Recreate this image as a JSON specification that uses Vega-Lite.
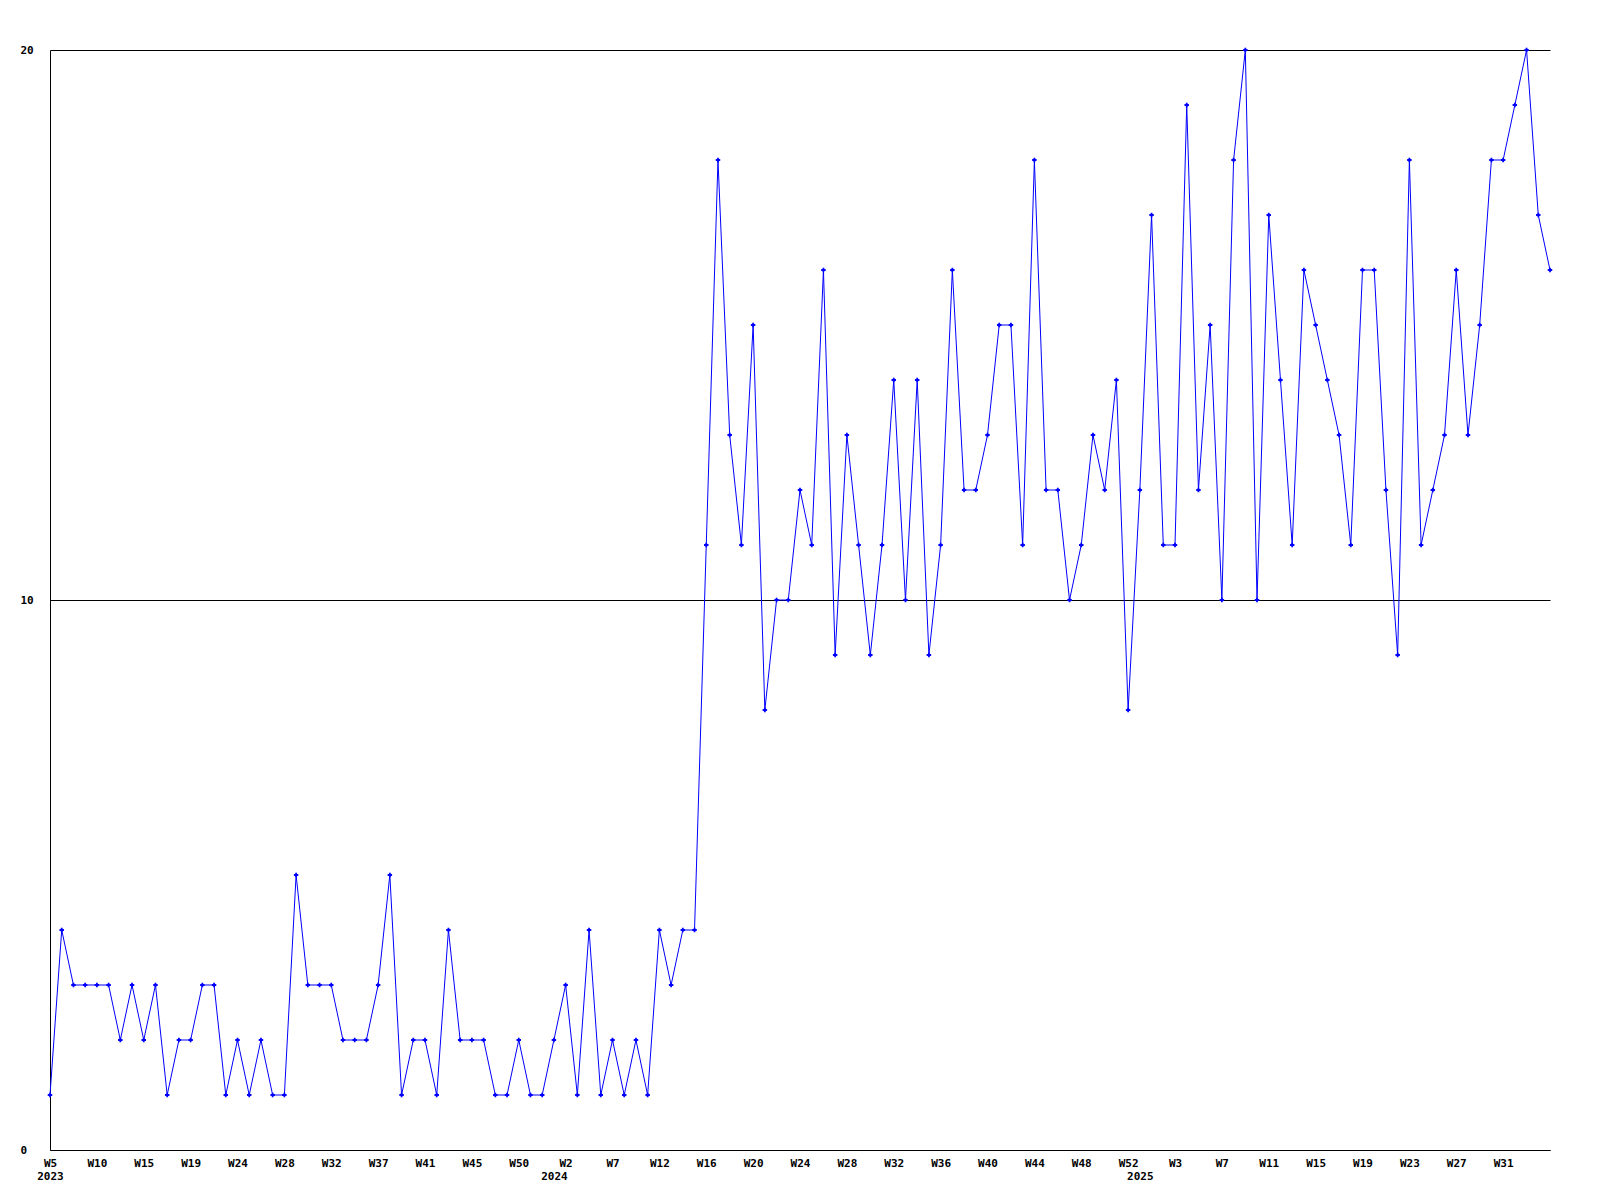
{
  "$schema": "https://vega.github.io/schema/vega-lite/v6.json",
  "width": 1500,
  "height": 1100,
  "autosize": {"type": "none"},
  "padding": {"left": 50, "top": 50, "right": 50, "bottom": 50},
  "background": "white",
  "config": {
    "view": {"stroke": null},
    "axis": {"labelFont": "DejaVu Sans Mono", "labelFontWeight": "bold", "labelFontSize": 11, "labelColor": "black", "domainColor": "black", "domainWidth": 1, "ticks": false, "tickSize": 0, "title": null}
  },
  "data": {"values": [
    {"week": "2023-W05", "v": 1}, {"week": "2023-W06", "v": 4}, {"week": "2023-W07", "v": 3}, {"week": "2023-W09", "v": 3},
    {"week": "2023-W10", "v": 3}, {"week": "2023-W11", "v": 3}, {"week": "2023-W12", "v": 2}, {"week": "2023-W14", "v": 3},
    {"week": "2023-W15", "v": 2}, {"week": "2023-W16", "v": 3}, {"week": "2023-W17", "v": 1}, {"week": "2023-W18", "v": 2},
    {"week": "2023-W19", "v": 2}, {"week": "2023-W20", "v": 3}, {"week": "2023-W21", "v": 3}, {"week": "2023-W23", "v": 1},
    {"week": "2023-W24", "v": 2}, {"week": "2023-W25", "v": 1}, {"week": "2023-W26", "v": 2}, {"week": "2023-W27", "v": 1},
    {"week": "2023-W28", "v": 1}, {"week": "2023-W29", "v": 5}, {"week": "2023-W30", "v": 3}, {"week": "2023-W31", "v": 3},
    {"week": "2023-W32", "v": 3}, {"week": "2023-W33", "v": 2}, {"week": "2023-W34", "v": 2}, {"week": "2023-W36", "v": 2},
    {"week": "2023-W37", "v": 3}, {"week": "2023-W38", "v": 5}, {"week": "2023-W39", "v": 1}, {"week": "2023-W40", "v": 2},
    {"week": "2023-W41", "v": 2}, {"week": "2023-W42", "v": 1}, {"week": "2023-W43", "v": 4}, {"week": "2023-W44", "v": 2},
    {"week": "2023-W45", "v": 2}, {"week": "2023-W46", "v": 2}, {"week": "2023-W47", "v": 1}, {"week": "2023-W49", "v": 1},
    {"week": "2023-W50", "v": 2}, {"week": "2023-W51", "v": 1}, {"week": "2023-W52", "v": 1},
    {"week": "2024-W01", "v": 2}, {"week": "2024-W02", "v": 3}, {"week": "2024-W03", "v": 1}, {"week": "2024-W04", "v": 4},
    {"week": "2024-W06", "v": 1}, {"week": "2024-W07", "v": 2}, {"week": "2024-W08", "v": 1}, {"week": "2024-W09", "v": 2},
    {"week": "2024-W11", "v": 1}, {"week": "2024-W12", "v": 4}, {"week": "2024-W13", "v": 3}, {"week": "2024-W14", "v": 4},
    {"week": "2024-W15", "v": 4}, {"week": "2024-W16", "v": 11}, {"week": "2024-W17", "v": 18}, {"week": "2024-W18", "v": 13},
    {"week": "2024-W19", "v": 11}, {"week": "2024-W20", "v": 15}, {"week": "2024-W21", "v": 8}, {"week": "2024-W22", "v": 10},
    {"week": "2024-W23", "v": 10}, {"week": "2024-W24", "v": 12}, {"week": "2024-W25", "v": 11}, {"week": "2024-W26", "v": 16},
    {"week": "2024-W27", "v": 9}, {"week": "2024-W28", "v": 13}, {"week": "2024-W29", "v": 11}, {"week": "2024-W30", "v": 9},
    {"week": "2024-W31", "v": 11}, {"week": "2024-W32", "v": 14}, {"week": "2024-W33", "v": 10}, {"week": "2024-W34", "v": 14},
    {"week": "2024-W35", "v": 9}, {"week": "2024-W36", "v": 11}, {"week": "2024-W37", "v": 16}, {"week": "2024-W38", "v": 12},
    {"week": "2024-W39", "v": 12}, {"week": "2024-W40", "v": 13}, {"week": "2024-W41", "v": 15}, {"week": "2024-W42", "v": 15},
    {"week": "2024-W43", "v": 11}, {"week": "2024-W44", "v": 18}, {"week": "2024-W45", "v": 12}, {"week": "2024-W46", "v": 12},
    {"week": "2024-W47", "v": 10}, {"week": "2024-W48", "v": 11}, {"week": "2024-W49", "v": 13}, {"week": "2024-W50", "v": 12},
    {"week": "2024-W51", "v": 14}, {"week": "2024-W52", "v": 8},
    {"week": "2025-W00", "v": 12}, {"week": "2025-W01", "v": 17}, {"week": "2025-W02", "v": 11}, {"week": "2025-W03", "v": 11},
    {"week": "2025-W04", "v": 19}, {"week": "2025-W05", "v": 12}, {"week": "2025-W06", "v": 15}, {"week": "2025-W07", "v": 10},
    {"week": "2025-W08", "v": 18}, {"week": "2025-W09", "v": 20}, {"week": "2025-W10", "v": 10}, {"week": "2025-W11", "v": 17},
    {"week": "2025-W12", "v": 14}, {"week": "2025-W13", "v": 11}, {"week": "2025-W14", "v": 16}, {"week": "2025-W15", "v": 15},
    {"week": "2025-W16", "v": 14}, {"week": "2025-W17", "v": 13}, {"week": "2025-W18", "v": 11}, {"week": "2025-W19", "v": 16},
    {"week": "2025-W20", "v": 16}, {"week": "2025-W21", "v": 12}, {"week": "2025-W22", "v": 9}, {"week": "2025-W23", "v": 18},
    {"week": "2025-W24", "v": 11}, {"week": "2025-W25", "v": 12}, {"week": "2025-W26", "v": 13}, {"week": "2025-W27", "v": 16},
    {"week": "2025-W28", "v": 13}, {"week": "2025-W29", "v": 15}, {"week": "2025-W30", "v": 18}, {"week": "2025-W31", "v": 18},
    {"week": "2025-W32", "v": 19}, {"week": "2025-W33", "v": 20}, {"week": "2025-W34", "v": 17}, {"week": "2025-W35", "v": 16}
  ]},
  "encoding": {
    "x": {
      "field": "week", "type": "ordinal",
      "scale": {"type": "point", "padding": 0},
      "axis": {
        "labelAngle": 0,
        "grid": false,
        "labelOverlap": false,
        "labelBaseline": "top",
        "labelPadding": 7,
        "labelLineHeight": 13,
        "values": ["2023-W05", "2023-W10", "2023-W15", "2023-W19", "2023-W24", "2023-W28", "2023-W32", "2023-W37", "2023-W41", "2023-W45", "2023-W50", "2024-W01", "2024-W02", "2024-W07", "2024-W12", "2024-W16", "2024-W20", "2024-W24", "2024-W28", "2024-W32", "2024-W36", "2024-W40", "2024-W44", "2024-W48", "2024-W52", "2025-W00", "2025-W03", "2025-W07", "2025-W11", "2025-W15", "2025-W19", "2025-W23", "2025-W27", "2025-W31"],
        "labelExpr": "datum.value == '2023-W05' ? ['W5', '2023'] : datum.value == '2024-W01' ? [' ', '2024'] : datum.value == '2025-W00' ? [' ', '2025'] : 'W' + toNumber(slice(datum.value, 6))"
      }
    },
    "y": {
      "field": "v", "type": "quantitative",
      "scale": {"domain": [0, 20], "nice": false},
      "axis": {
        "values": [0, 10, 20],
        "grid": true,
        "gridColor": "black",
        "gridOpacity": 1,
        "gridWidth": 1,
        "labelAlign": "left",
        "labelBaseline": "middle",
        "labelPadding": 30
      }
    }
  },
  "layer": [
    {"mark": {"type": "line", "color": "#0000ff", "strokeWidth": 1}},
    {"mark": {"type": "point", "shape": "cross", "filled": true, "size": 20, "color": "#0000ff", "opacity": 1}}
  ]
}
